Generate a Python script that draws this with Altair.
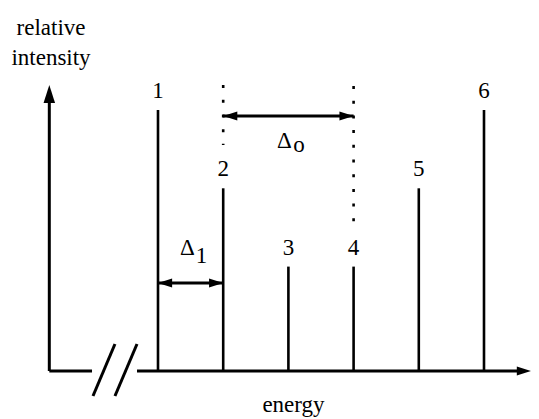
import altair as alt
import pandas as pd

# ---- data (energy in line-index units, intensity in relative units) ----
line_pos = [1, 2, 3, 4, 5, 6]
line_int = [3.0, 2.1, 1.2, 1.2, 2.1, 3.0]
line_lbl = ["1", "2", "3", "4", "5", "6"]

# dotted extensions above lines 2 and 4
dot_x = [2, 4]
dot_y1 = [2.598, 1.678]
dot_y2 = [3.287, 3.276]

# axis segments (x axis broken)
axis_x1 = [-0.667, -0.667, 0.678]
axis_x2 = [-0.667, -0.012, 6.60]
axis_y1 = [0.0, 0.0, 0.0]
axis_y2 = [3.15, 0.0, 0.0]

# break slashes
sl_x1 = [0.003, 0.340]
sl_x2 = [0.340, 0.678]
sl_y1 = [-0.287, -0.287]
sl_y2 = [0.310, 0.310]

# double arrows (delta_o, delta_1)
da_x1 = [2, 1]
da_x2 = [4, 2]
da_y = [2.931, 1.011]

# arrow heads by direction
up_x, up_y = [-0.667], [3.287]
right_x, right_y = [6.72, 4.0, 2.0], [0.0, 2.931, 1.011]
left_x, left_y = [2.0, 1.0], [2.931, 1.011]

# text annotations
tx_x = [2.94, 3.163, 1.452, 1.667, 3.078, -0.641, -0.641]
tx_y = [2.563, 2.517, 1.333, 1.241, -0.471, 3.862, 3.517]
tx_t = ["Δ", "o", "Δ", "1", "energy", "relative", "intensity"]

XD = [-1.3006, 6.7209]
YD = [-0.4598, 4.1724]
FONT = "'Liberation Serif', 'Times New Roman', Times, serif"


def X(f):
    return alt.X(f, type="quantitative", scale=alt.Scale(domain=XD, nice=False, zero=False), axis=None)


def Y(f):
    return alt.Y(f, type="quantitative", scale=alt.Scale(domain=YD, nice=False, zero=False), axis=None)


lines = pd.DataFrame({"x": line_pos, "y": line_int, "lbl": line_lbl})
lines["y0"] = 0.0
lines["ly"] = lines["y"] + 0.138

dots = pd.DataFrame({"x": dot_x, "y1": dot_y1, "y2": dot_y2})
axes = pd.DataFrame({"x1": axis_x1, "x2": axis_x2, "y1": axis_y1, "y2": axis_y2})
slashes = pd.DataFrame({"x1": sl_x1, "x2": sl_x2, "y1": sl_y1, "y2": sl_y2})
darr = pd.DataFrame({"x1": da_x1, "x2": da_x2, "y": da_y})
texts = pd.DataFrame({"x": tx_x, "y": tx_y, "t": tx_t})

spec_lines = alt.Chart(lines).mark_rule(color="black", strokeWidth=2.6).encode(
    x=X("x"), y=Y("y0"), y2=alt.Y2("y"),
)
line_labels = alt.Chart(lines).mark_text(
    font=FONT, fontSize=23, baseline="alphabetic", align="center", color="black"
).encode(x=X("x"), y=Y("ly"), text=alt.Text("lbl:N"))

dotted = alt.Chart(dots).mark_rule(
    color="black", strokeWidth=2.6, strokeDash=[3, 11.7]
).encode(x=X("x"), y=Y("y2"), y2=alt.Y2("y1"))

axis_rules = alt.Chart(axes).mark_rule(color="black", strokeWidth=3).encode(
    x=X("x1"), x2=alt.X2("x2"), y=Y("y1"), y2=alt.Y2("y2")
)
slash_rules = alt.Chart(slashes).mark_rule(color="black", strokeWidth=3).encode(
    x=X("x1"), x2=alt.X2("x2"), y=Y("y1"), y2=alt.Y2("y2")
)
arrow_rules = alt.Chart(darr).mark_rule(color="black", strokeWidth=3).encode(
    x=X("x1"), x2=alt.X2("x2"), y=Y("y")
)

HEAD = "M0,0L0.32,1L-0.32,1Z"


def heads(xv, yv, ang, size):
    df = pd.DataFrame({"x": xv, "y": yv})
    return alt.Chart(df).mark_point(
        shape=HEAD, filled=True, fill="black", strokeWidth=0, opacity=1,
        angle=ang, size=size
    ).encode(x=X("x"), y=Y("y"))


h_up = heads(up_x, up_y, 0, 1296)
h_right = heads(right_x, right_y, 90, 800)
h_left = heads(left_x, left_y, 270, 800)

text_marks = alt.Chart(texts).mark_text(
    font=FONT, fontSize=23, baseline="alphabetic", align="center", color="black"
).encode(x=X("x"), y=Y("y"), text=alt.Text("t:N"))

chart = alt.layer(
    axis_rules, slash_rules, spec_lines, dotted, arrow_rules,
    h_up, h_right, h_left, line_labels, text_marks
).properties(
    width=523, height=403, autosize=alt.AutoSizeParams(type="none"),
    padding={"left": 0, "top": 0, "right": 0, "bottom": 8}
).configure_view(strokeWidth=0)

chart.save("out.html", embed_options={"renderer": "svg", "actions": False})
